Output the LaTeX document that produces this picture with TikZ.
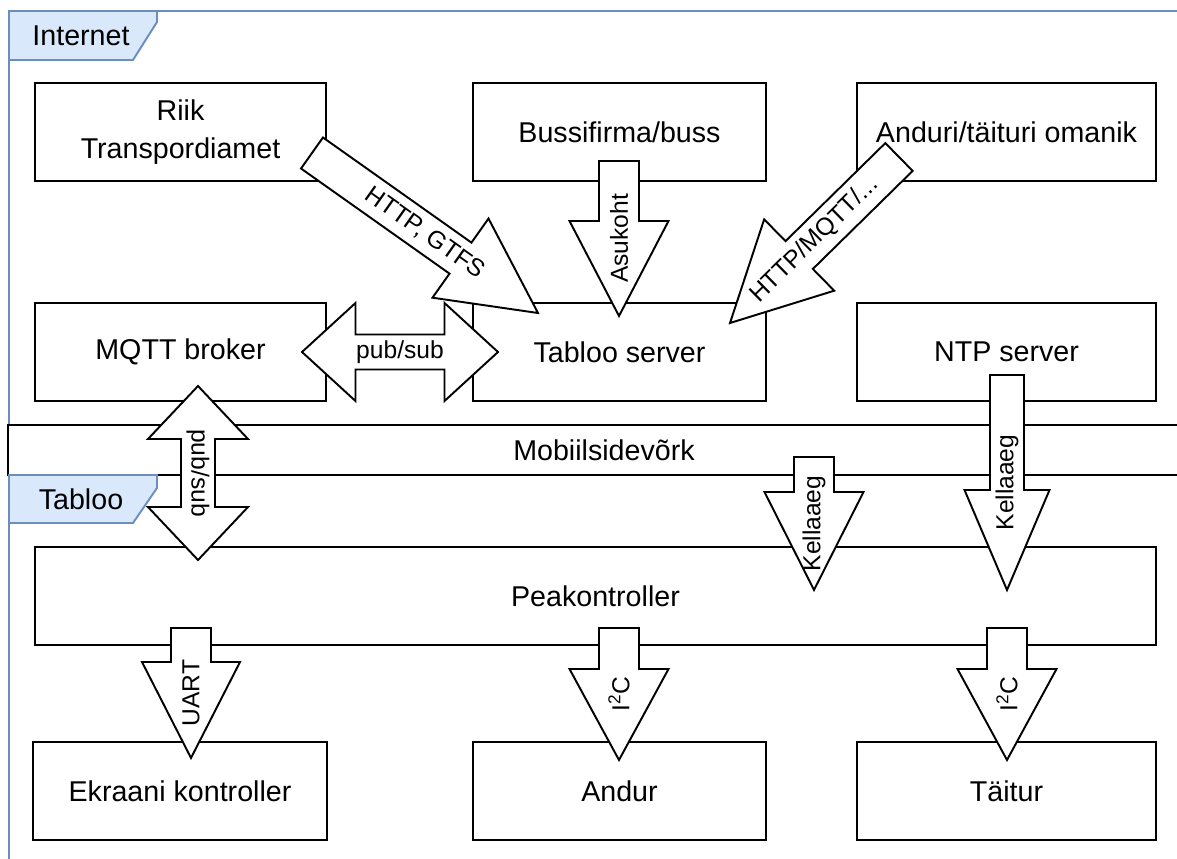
\documentclass[tikz,border=0pt]{standalone}
\usepackage{fontspec}
\setmainfont{Liberation Sans}
\usetikzlibrary{calc}

\definecolor{tabfill}{HTML}{DAE8FC}
\definecolor{tabline}{HTML}{6C8EBF}

% block arrow: tail, tip, shaft half width, head half width, head length, base name
\newcommand{\singlearrow}[6]{%
  \coordinate (#6) at ($(#2)!#5!(#1)$);
  \draw[fat] ($(#1)!#3!90:(#2)$) -- ($(#6)!#3!90:(#2)$) -- ($(#6)!#4!90:(#2)$) -- (#2)
    -- ($(#6)!#4!-90:(#2)$) -- ($(#6)!#3!-90:(#2)$) -- ($(#1)!#3!-90:(#2)$) -- cycle;
}
% block arrow with two heads: end a, end b, shaft half width, head half width, head length
\newcommand{\doublearrow}[5]{%
  \coordinate (#1-h) at ($(#1)!#5!(#2)$);
  \coordinate (#2-h) at ($(#2)!#5!(#1)$);
  \draw[fat] (#1) -- ($(#1-h)!#4!90:(#2)$) -- ($(#1-h)!#3!90:(#2)$) -- ($(#2-h)!#3!90:(#2)$)
    -- ($(#2-h)!#4!90:(#2)$) -- (#2) -- ($(#2-h)!#4!-90:(#2)$) -- ($(#2-h)!#3!-90:(#2)$)
    -- ($(#1-h)!#3!-90:(#2)$) -- ($(#1-h)!#4!-90:(#2)$) -- cycle;
}

\begin{document}
\begin{tikzpicture}[
  x=0.02cm, y=-0.02cm,
  box/.style={rectangle, draw, fill=white, line width=1.1pt, minimum height=1.96cm,
    inner sep=0pt, align=center, font=\fontsize{16.3}{22}\selectfont},
  fat/.style={draw, fill=white, line width=1.1pt},
  lbl/.style={inner sep=0pt, font=\fontsize{14}{17}\selectfont},
  frame/.style={draw=tabline, line width=1.2pt},
  tab/.style={draw=tabline, fill=tabfill, line width=1.1pt},
  tabtext/.style={inner sep=0pt, font=\fontsize{16.3}{20}\selectfont}
]
\useasboundingbox (0,0) rectangle (1177,859);

% Frames
\draw[frame] (1177,11) -- (9,11) -- (9,859);

% Internet side
\node[box, minimum width=5.82cm] (riik) at (180.5,132) {Riik\\Transpordiamet};
\node[box, minimum width=5.86cm] (buss) at (619.5,132) {Bussifirma/buss};
\node[box, minimum width=5.98cm] (omanik) at (1006.5,132) {Anduri/täituri omanik};
\node[box, minimum width=5.82cm] (mqtt) at (180.5,352) {MQTT broker};
\node[box, minimum width=5.86cm] (server) at (619.5,352) {Tabloo server};
\node[box, minimum width=5.98cm] (ntp) at (1006.5,352) {NTP server};

% Mobile network
\node[box, minimum width=23.84cm, minimum height=1cm] (mobiil) at (604,450) {Mobiilsidevõrk};

% Tabloo side
\node[box, minimum width=22.42cm] (peak) at (595.5,596) {Peakontroller};
\node[box, minimum width=5.88cm] (ekraan) at (180,791) {Ekraani kontroller};
\node[box, minimum width=5.86cm] (andur) at (619.5,791) {Andur};
\node[box, minimum width=5.98cm] (taitur) at (1006.5,791) {Täitur};

% Tabs
\draw[tab] (9,11) -- (157,11) -- (157,22) -- (133,60) -- (9,60) -- cycle;
\node[tabtext] (internet) at (81,36) {Internet};
\draw[tab] (9,475) -- (157,475) -- (157,488) -- (133,523) -- (9,523) -- cycle;
\node[tabtext] (tabloo) at (81,499) {Tabloo};

% Arrow ends
\coordinate (gtfs-s) at (312,153);
\coordinate (gtfs-t) at (538,313);
\coordinate (asu-s) at (619,161);
\coordinate (asu-t) at (619,316);
\coordinate (omn-s) at (899,157);
\coordinate (omn-t) at (730,323);
\coordinate (ps1-a) at (302,352);
\coordinate (ps1-b) at (498,352);
\coordinate (ps2-a) at (198,386);
\coordinate (ps2-b) at (198,560);
\coordinate (kell1-s) at (814,457);
\coordinate (kell1-t) at (814,590);
\coordinate (kell2-s) at (1007,375);
\coordinate (kell2-t) at (1007,590);
\coordinate (uart-s) at (191,628);
\coordinate (uart-t) at (191,758);
\coordinate (ic1-s) at (619,628);
\coordinate (ic1-t) at (619,760);
\coordinate (ic2-s) at (1007,628);
\coordinate (ic2-t) at (1007,760);

% Arrows
\singlearrow{gtfs-s}{gtfs-t}{0.38cm}{0.97cm}{1.9cm}{gtfs-h}
\node[lbl, rotate=-35.3] (gtfs) at ($(gtfs-s)!0.5!(gtfs-t)$) {HTTP, GTFS};

\singlearrow{asu-s}{asu-t}{0.4cm}{0.99cm}{1.9cm}{asu-h}
\node[lbl, rotate=90] (asukoht) at ($(asu-s)!0.5!(asu-t)$) {Asukoht};

\singlearrow{omn-s}{omn-t}{0.39cm}{1cm}{1.94cm}{omn-h}
\node[lbl, rotate=44.5] (omnlbl) at ($(omn-s)!0.5!(omn-t)$) {HTTP/MQTT/...};

\doublearrow{ps1-a}{ps1-b}{0.35cm}{0.98cm}{1.07cm}
\node[lbl] (pubsub1) at ($(ps1-a)!0.5!(ps1-b)$) {pub/sub};

\doublearrow{ps2-a}{ps2-b}{0.34cm}{1cm}{1.06cm}
\node[lbl, rotate=-90] (pubsub2) at ($(ps2-a)!0.5!(ps2-b)$) {pub/sub};

\singlearrow{kell1-s}{kell1-t}{0.4cm}{0.99cm}{1.96cm}{kell1-h}
\node[lbl, rotate=90] (kell1) at ($(kell1-s)!0.5!(kell1-t)$) {Kellaaeg};

\singlearrow{kell2-s}{kell2-t}{0.34cm}{0.85cm}{2cm}{kell2-h}
\node[lbl, rotate=90] (kell2) at ($(kell2-s)!0.5!(kell2-t)$) {Kellaaeg};

\singlearrow{uart-s}{uart-t}{0.4cm}{0.98cm}{1.92cm}{uart-h}
\node[lbl, rotate=90] (uart) at ($(uart-s)!0.5!(uart-t)$) {UART};

\singlearrow{ic1-s}{ic1-t}{0.4cm}{0.99cm}{1.82cm}{ic1-h}
\node[lbl, rotate=90] (ic1) at ($(ic1-s)!0.5!(ic1-t)$) {I\textsuperscript{2}C};

\singlearrow{ic2-s}{ic2-t}{0.4cm}{0.99cm}{1.82cm}{ic2-h}
\node[lbl, rotate=90] (ic2) at ($(ic2-s)!0.5!(ic2-t)$) {I\textsuperscript{2}C};

\end{tikzpicture}
\end{document}
